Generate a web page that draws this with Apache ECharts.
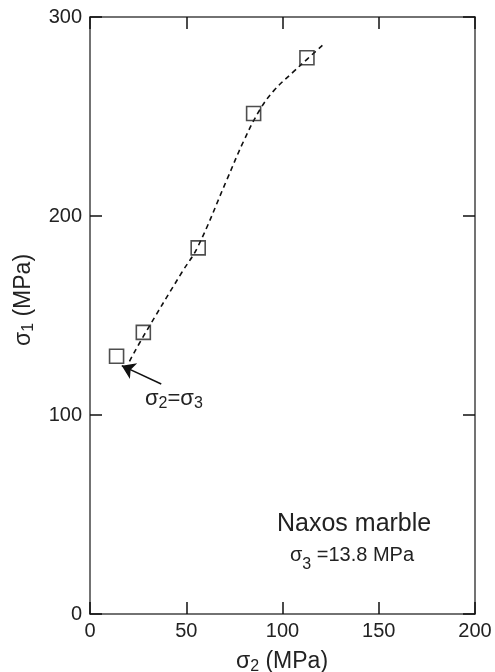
<!DOCTYPE html>
<html><head><meta charset="utf-8">
<script src="https://cdn.jsdelivr.net/npm/echarts@6/dist/echarts.min.js"></script>
<style>html,body{margin:0;padding:0;background:#fff}#c{width:495px;height:672px}</style>
</head><body><div id="c"></div>
<script>
const sigma2 = [13.8, 27.7, 56.2, 85.0, 112.7];
const sigma1 = [129.5, 141.5, 184.0, 251.5, 279.5];
const fitX = [20.5, 28, 47.6, 56, 71, 80, 88, 95.5, 105.6, 113, 121];
const fitY = [127, 140, 171.5, 184.5, 218, 238, 253, 263, 272.4, 279, 286];
const arrowFrom = [37, 115.6];
const arrowTo = [16.5, 124.8];
const xTicks = [0, 50, 100, 150, 200];
const yTicks = [0, 100, 200, 300];

const font = '"Liberation Sans", Arial, Helvetica, sans-serif';
const ink = '#222';
const chart = echarts.init(document.getElementById('c'));
const axisCommon = () => ({
  axisLine: {show: true, onZero: false, lineStyle: {color: '#444', width: 1.5}},
  axisTick: {show: true, inside: true, length: 12, lineStyle: {color: '#111', width: 1.5}},
  splitLine: {show: false}
});
chart.setOption({
  animation: false,
  grid: {left: 90, right: 20, top: 17, bottom: 58},
  xAxis: [
    Object.assign({type: 'value', min: 0, max: 200, interval: 50, position: 'bottom',
      axisLabel: {fontSize: 20, fontFamily: font, color: ink, margin: 7,
        formatter: v => xTicks.includes(v) ? String(v) : ''}}, axisCommon()),
    Object.assign({type: 'value', min: 0, max: 200, interval: 50, position: 'top',
      axisLabel: {show: false}}, axisCommon())
  ],
  yAxis: [
    Object.assign({type: 'value', min: 0, max: 300, interval: 100, position: 'left',
      axisLabel: {fontSize: 20, fontFamily: font, color: ink, margin: 8,
        formatter: v => yTicks.includes(v) ? String(v) : ''}}, axisCommon()),
    Object.assign({type: 'value', min: 0, max: 300, interval: 100, position: 'right',
      axisLabel: {show: false}}, axisCommon())
  ],
  series: [
    {type: 'line', data: fitX.map((x, i) => [x, fitY[i]]), smooth: 0.4, showSymbol: false,
      lineStyle: {color: '#111', width: 1.6, type: [5, 4]}, z: 2},
    {type: 'scatter', data: sigma2.map((x, i) => [x, sigma1[i]]), symbol: 'rect', symbolSize: 14,
      itemStyle: {color: 'rgba(0,0,0,0)', borderColor: '#222', borderWidth: 1.6}, z: 3},
    {type: 'lines', coordinateSystem: 'cartesian2d', polyline: false,
      symbol: ['none', 'arrow'], symbolSize: [0, 13],
      lineStyle: {color: '#111', width: 1.5, opacity: 1},
      data: [{coords: [arrowFrom, arrowTo]}], z: 4}
  ],
  graphic: [
    {type: 'text', x: 282, y: 662, style: {
      text: '{n|σ}{s|2}{n| (MPa)}', align: 'center', verticalAlign: 'middle', rich: {
        n: {fontSize: 23, fontFamily: font, fill: ink},
        s: {fontSize: 16, fontFamily: font, fill: ink, padding: [10, 0, 0, 0]}}}},
    {type: 'text', x: 24, y: 300, rotation: Math.PI / 2, style: {
      text: '{n|σ}{s|1}{n| (MPa)}', align: 'center', verticalAlign: 'middle', rich: {
        n: {fontSize: 23, fontFamily: font, fill: ink},
        s: {fontSize: 16, fontFamily: font, fill: ink, padding: [10, 0, 0, 0]}}}},
    {type: 'text', left: 145, top: 388, style: {
      text: '{n|σ}{s|2}{n|=σ}{s|3}', rich: {
        n: {fontSize: 22, fontFamily: font, fill: ink},
        s: {fontSize: 16, fontFamily: font, fill: ink, padding: [9, 0, 0, 0]}}}},
    {type: 'text', left: 277, top: 512, style: {text: 'Naxos marble', fontSize: 25, fontFamily: font, fill: ink}},
    {type: 'text', left: 290, top: 545, style: {
      text: '{n|σ}{s|3}{n| =13.8 MPa}', rich: {
        n: {fontSize: 20, fontFamily: font, fill: ink},
        s: {fontSize: 16, fontFamily: font, fill: ink, padding: [20, 0, 0, 0]}}}}
  ]
});
</script></body></html>
